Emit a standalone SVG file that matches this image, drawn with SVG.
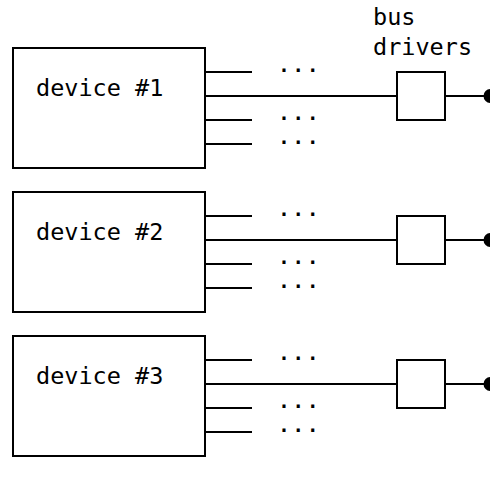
<svg xmlns="http://www.w3.org/2000/svg" width="490" height="479" viewBox="0 0 490 479">
<style>
.box{fill:#fff;stroke:#000;stroke-width:2}
.ln{stroke:#000;stroke-width:2;fill:none}
.t{font-family:"DejaVu Sans Mono",monospace;font-size:23.5px;fill:#000}
.dots{font-family:"DejaVu Sans Mono",monospace;font-size:19px;font-weight:bold;letter-spacing:2.86px;fill:#000}
</style>
<g id="label-bus-drivers">
<text class="t" x="373" y="25">bus</text>
<text class="t" x="373" y="55">drivers</text>
</g>
<g id="connectors">
<path class="ln" d="M205 72H252M205 96H397M205 120H252M205 144H252M445 96H489"/>
<path class="ln" d="M205 216H252M205 240H397M205 264H252M205 288H252M445 240H489"/>
<path class="ln" d="M205 360H252M205 384H397M205 408H252M205 432H252M445 384H489"/>
<circle cx="490.5" cy="96" r="7"/>
<circle cx="490.5" cy="240" r="7"/>
<circle cx="490.5" cy="384" r="7"/>
<text class="dots" x="278.3" y="72">...</text>
<text class="dots" x="278.3" y="120">...</text>
<text class="dots" x="278.3" y="144">...</text>
<text class="dots" x="278.3" y="216">...</text>
<text class="dots" x="278.3" y="264">...</text>
<text class="dots" x="278.3" y="288">...</text>
<text class="dots" x="278.3" y="360">...</text>
<text class="dots" x="278.3" y="408">...</text>
<text class="dots" x="278.3" y="432">...</text>
</g>
<g id="device1">
<rect class="box" x="13" y="48" width="192" height="120"/>
<text class="t" x="36" y="96">device #1</text>
</g>
<g id="device2">
<rect class="box" x="13" y="192" width="192" height="120"/>
<text class="t" x="36" y="240">device #2</text>
</g>
<g id="device3">
<rect class="box" x="13" y="336" width="192" height="120"/>
<text class="t" x="36" y="384">device #3</text>
</g>
<g id="driver1"><rect class="box" x="397" y="72" width="48" height="48"/></g>
<g id="driver2"><rect class="box" x="397" y="216" width="48" height="48"/></g>
<g id="driver3"><rect class="box" x="397" y="360" width="48" height="48"/></g>
</svg>
